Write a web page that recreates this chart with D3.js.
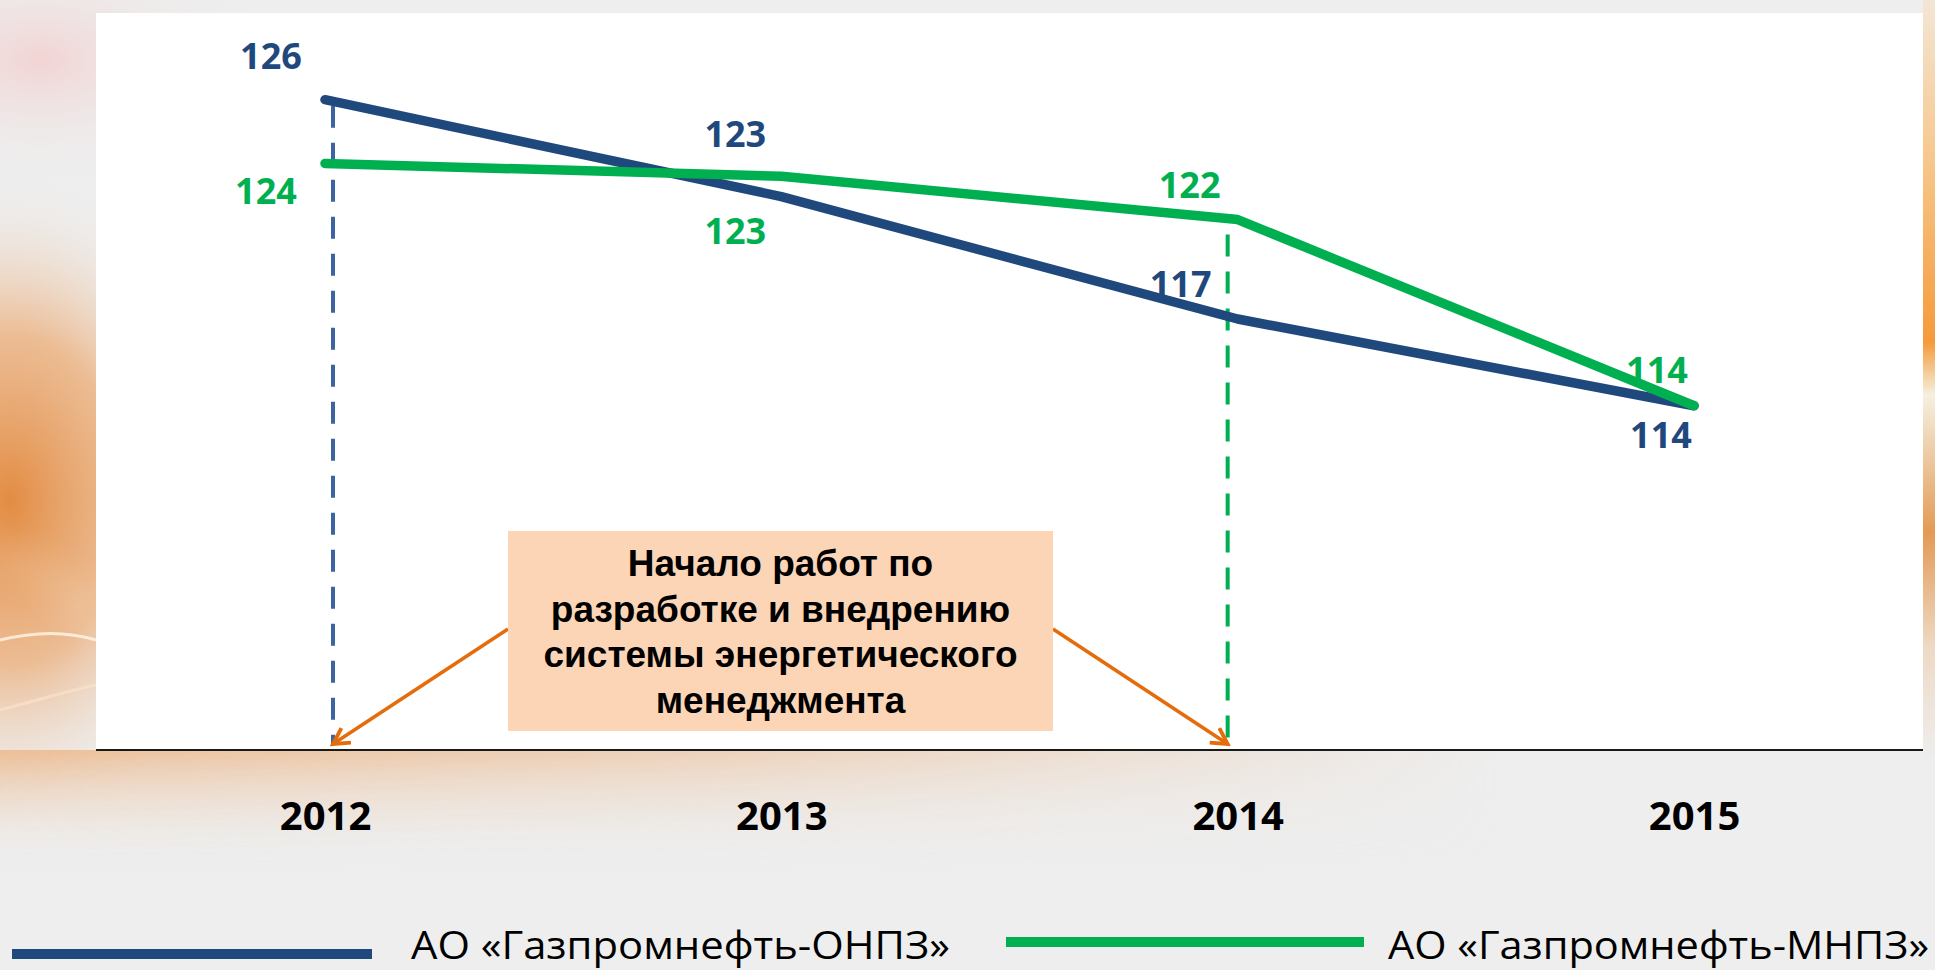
<!DOCTYPE html>
<html>
<head>
<meta charset="utf-8">
<script src="https://cdn.jsdelivr.net/npm/d3@7"></script>
<style>
  html, body { margin: 0; padding: 0; background: #eeeeee; overflow: hidden; }
  svg { display: block; }
</style>
</head>
<body>
<svg id="chart" width="1935" height="970"></svg>
<script>
// === Data ===
const years = ["2012", "2013", "2014", "2015"];
const onpzValues = [126.0, 122.2, 117.4, 114.0];   // линия ОНПЗ
const mnpzValues = [123.5, 123.0, 121.3, 114.0];   // линия МНПЗ
const onpzLabels = ["126", "123", "117", "114"];
const mnpzLabels = ["124", "123", "122", "114"];
const seriesNames = ["АО «Газпромнефть-ОНПЗ»", "АО «Газпромнефть-МНПЗ»"];
const noteLines = ["Начало работ по", "разработке и внедрению", "системы энергетического", "менеджмента"];
const startYears = ["2012", "2014"]; // год начала работ: ОНПЗ, МНПЗ

const blue = "#1f497d";
const green = "#00b050";
const orange = "#e46c0a";

const svg = d3.select("#chart");
const width = +svg.attr("width");
const height = +svg.attr("height");

const panel = { left: 96, top: 13, right: 1923, bottom: 750 };

// === Background ===
const defs = svg.append("defs");

const glowLeft = defs.append("radialGradient").attr("id", "glowLeft");
glowLeft.append("stop").attr("offset", 0).attr("stop-color", "#e2873a").attr("stop-opacity", 0.95);
glowLeft.append("stop").attr("offset", 0.5).attr("stop-color", "#eba76d").attr("stop-opacity", 0.7);
glowLeft.append("stop").attr("offset", 1).attr("stop-color", "#eeeeee").attr("stop-opacity", 0);

const pinkGlow = defs.append("radialGradient").attr("id", "pinkGlow");
pinkGlow.append("stop").attr("offset", 0).attr("stop-color", "#f2d2d2").attr("stop-opacity", 0.95);
pinkGlow.append("stop").attr("offset", 1).attr("stop-color", "#eeeeee").attr("stop-opacity", 0);

const bottomGlow = defs.append("linearGradient").attr("id", "bottomGlow")
  .attr("x1", 0).attr("y1", 0).attr("x2", 0).attr("y2", 1);
bottomGlow.append("stop").attr("offset", 0).attr("stop-color", "#ecb585").attr("stop-opacity", 0.8);
bottomGlow.append("stop").attr("offset", 1).attr("stop-color", "#eeeeee").attr("stop-opacity", 0);

const bottomFade = defs.append("linearGradient").attr("id", "bottomFade")
  .attr("gradientUnits", "userSpaceOnUse")
  .attr("x1", 0).attr("y1", 0).attr("x2", 1500).attr("y2", 0);
bottomFade.append("stop").attr("offset", 0).attr("stop-color", "#fff").attr("stop-opacity", 1);
bottomFade.append("stop").attr("offset", 0.5).attr("stop-color", "#fff").attr("stop-opacity", 0.6);
bottomFade.append("stop").attr("offset", 1).attr("stop-color", "#fff").attr("stop-opacity", 0);
defs.append("mask").attr("id", "bottomMask")
  .append("rect").attr("width", width).attr("height", height).attr("fill", "url(#bottomFade)");

const rightGlow = defs.append("linearGradient").attr("id", "rightGlow")
  .attr("x1", 0).attr("y1", 0).attr("x2", 0).attr("y2", 1);
rightGlow.append("stop").attr("offset", 0).attr("stop-color", "#f3e6d6");
rightGlow.append("stop").attr("offset", 0.2).attr("stop-color", "#f7c98f");
rightGlow.append("stop").attr("offset", 0.45).attr("stop-color", "#f59a3a");
rightGlow.append("stop").attr("offset", 0.52).attr("stop-color", "#f5f0e0");
rightGlow.append("stop").attr("offset", 0.7).attr("stop-color", "#e39a55");
rightGlow.append("stop").attr("offset", 0.85).attr("stop-color", "#eed9c4");
rightGlow.append("stop").attr("offset", 1).attr("stop-color", "#eeeeee");

const blur = defs.append("filter").attr("id", "soft")
  .attr("x", "-50%").attr("y", "-50%").attr("width", "200%").attr("height", "200%");
blur.append("feGaussianBlur").attr("stdDeviation", 18);

svg.append("rect").attr("width", width).attr("height", height).attr("fill", "#eeeeee");
svg.append("ellipse").attr("cx", 40).attr("cy", 60).attr("rx", 230).attr("ry", 130).attr("fill", "url(#pinkGlow)");
svg.append("ellipse").attr("cx", 10).attr("cy", 500).attr("rx", 230).attr("ry", 330).attr("fill", "url(#glowLeft)");
svg.append("rect").attr("x", 0).attr("y", panel.bottom).attr("width", 1500).attr("height", 120)
  .attr("fill", "url(#bottomGlow)").attr("mask", "url(#bottomMask)");
svg.append("rect").attr("x", panel.right).attr("y", 0).attr("width", width - panel.right).attr("height", 760)
  .attr("fill", "url(#rightGlow)");
// светлые полосы слева
svg.append("path")
  .attr("d", "M0,560 C40,560 70,590 96,620")
  .attr("fill", "none").attr("stroke", "#fff3e2").attr("stroke-width", 6).attr("opacity", 0.75)
  .attr("filter", "url(#soft)");
svg.append("path")
  .attr("d", "M0,640 C40,630 70,632 96,640")
  .attr("fill", "none").attr("stroke", "#fff6ea").attr("stroke-width", 3).attr("opacity", 0.8);
svg.append("path")
  .attr("d", "M0,710 C40,700 70,690 96,685")
  .attr("fill", "none").attr("stroke", "#f9e3c9").attr("stroke-width", 3).attr("opacity", 0.7);

// белая панель
svg.append("rect")
  .attr("x", panel.left).attr("y", panel.top)
  .attr("width", panel.right - panel.left).attr("height", panel.bottom - panel.top)
  .attr("fill", "#ffffff");

// === Scales ===
const x = d3.scalePoint().domain(years).range([325, 1694]);
const y = d3.scaleLinear().domain([100.5, 129.4]).range([panel.bottom, panel.top]);

// === Dashed start lines ===
const dashX = [x(startYears[0]) + 8, x(startYears[1]) - 10];
svg.append("line")
  .attr("x1", dashX[0]).attr("x2", dashX[0])
  .attr("y1", y(onpzValues[years.indexOf(startYears[0])]) + 6).attr("y2", panel.bottom - 6)
  .attr("stroke", "#3b64a0").attr("stroke-width", 4).attr("stroke-dasharray", "22 15");
svg.append("line")
  .attr("x1", dashX[1]).attr("x2", dashX[1])
  .attr("y1", y(mnpzValues[years.indexOf(startYears[1])]) + 15).attr("y2", panel.bottom - 6)
  .attr("stroke", green).attr("stroke-width", 4).attr("stroke-dasharray", "22 15");

// === Axis ===
svg.append("line")
  .attr("x1", panel.left).attr("x2", panel.right)
  .attr("y1", panel.bottom).attr("y2", panel.bottom)
  .attr("stroke", "#1a1a1a").attr("stroke-width", 2);

const xAxis = svg.append("g")
  .attr("transform", `translate(0, ${panel.bottom})`)
  .call(d3.axisBottom(x).tickSize(0).tickPadding(80));
xAxis.select(".domain").remove();
xAxis.selectAll("text")
  .attr("font-family", "'Open Sans', sans-serif")
  .attr("font-weight", 700)
  .attr("font-size", 40)
  .attr("fill", "#000")
  .attr("dy", 0);

// === Lines ===
const line = d3.line().x((d, i) => x(years[i])).y(d => y(d));

svg.append("path").datum(onpzValues)
  .attr("d", line).attr("fill", "none")
  .attr("stroke", blue).attr("stroke-width", 9.5)
  .attr("stroke-linecap", "round").attr("stroke-linejoin", "round");

svg.append("path").datum(mnpzValues)
  .attr("d", line).attr("fill", "none")
  .attr("stroke", green).attr("stroke-width", 9.5)
  .attr("stroke-linecap", "round").attr("stroke-linejoin", "round");

// === Value labels ===
const onpzOffsets = [[-54, -31], [-46, -50], [-57, -22], [-33, 42]];
const mnpzOffsets = [[-59, 41], [-46, 68], [-48, -22], [-37, -23]];

function drawLabels(values, labels, offsets, color) {
  svg.append("g").selectAll("text")
    .data(values)
    .enter()
    .append("text")
    .attr("x", (d, i) => x(years[i]) + offsets[i][0])
    .attr("y", (d, i) => y(d) + offsets[i][1])
    .attr("text-anchor", "middle")
    .attr("font-family", "'Open Sans', sans-serif")
    .attr("font-weight", 700)
    .attr("font-size", 36)
    .attr("fill", color)
    .text((d, i) => labels[i]);
}
drawLabels(onpzValues, onpzLabels, onpzOffsets, blue);
drawLabels(mnpzValues, mnpzLabels, mnpzOffsets, green);

// === Annotation box + arrows ===
const box = { x: 508, y: 531, w: 545, h: 200 };

const marker = defs.append("marker")
  .attr("id", "arrowHead")
  .attr("viewBox", "0 0 12 12")
  .attr("refX", 10).attr("refY", 6)
  .attr("markerWidth", 6).attr("markerHeight", 6)
  .attr("markerUnits", "strokeWidth")
  .attr("orient", "auto");
marker.append("path")
  .attr("d", "M1,1 L10,6 L1,11")
  .attr("fill", "none").attr("stroke", orange).attr("stroke-width", 2.2)
  .attr("stroke-linejoin", "miter");

svg.append("line")
  .attr("x1", box.x).attr("y1", 629)
  .attr("x2", dashX[0]).attr("y2", 744)
  .attr("stroke", orange).attr("stroke-width", 3.5)
  .attr("marker-end", "url(#arrowHead)");
svg.append("line")
  .attr("x1", box.x + box.w).attr("y1", 629)
  .attr("x2", dashX[1]).attr("y2", 744)
  .attr("stroke", orange).attr("stroke-width", 3.5)
  .attr("marker-end", "url(#arrowHead)");

svg.append("rect")
  .attr("x", box.x).attr("y", box.y)
  .attr("width", box.w).attr("height", box.h)
  .attr("fill", "#fbd5b5");

svg.append("g").selectAll("text")
  .data(noteLines)
  .enter()
  .append("text")
  .attr("x", box.x + box.w / 2)
  .attr("y", (d, i) => 576 + i * 45.5)
  .attr("text-anchor", "middle")
  .attr("font-family", "'Liberation Sans', Arial, sans-serif")
  .attr("font-weight", 700)
  .attr("font-size", 37)
  .attr("fill", "#000")
  .text(d => d);

// === Legend ===
const legend = [
  { x1: 12, x2: 372, ly: 954, tx: 411, tw: 539, color: blue },
  { x1: 1006, x2: 1364, ly: 942, tx: 1388, tw: 541, color: green }
];
legend.forEach((l, i) => {
  svg.append("line")
    .attr("x1", l.x1).attr("x2", l.x2)
    .attr("y1", l.ly).attr("y2", l.ly)
    .attr("stroke", l.color).attr("stroke-width", 10);
  svg.append("text")
    .attr("x", l.tx).attr("y", 959)
    .attr("font-family", "'Open Sans', sans-serif")
    .attr("font-size", 38)
    .attr("fill", "#000")
    .attr("textLength", l.tw)
    .attr("lengthAdjust", "spacingAndGlyphs")
    .text(seriesNames[i]);
});
</script>
</body>
</html>
